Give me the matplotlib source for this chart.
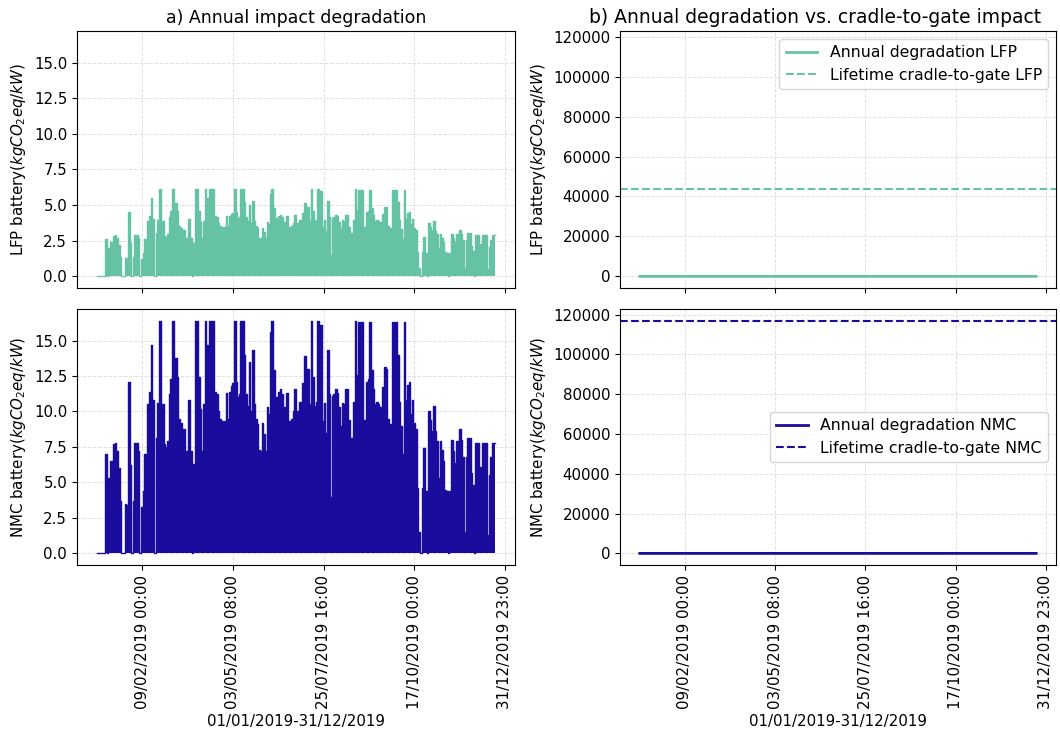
import matplotlib
matplotlib.use('Agg')
import matplotlib.pyplot as plt
import numpy as np

# NMC degradation impact, one value per 36 h block of 2019 (kgCO2eq/kW), read off panel a)
nmc_values = [
    0, 0, 0, 0, 0, 7.0, 0, 5.3, 6.5, 6.5, 7.7, 7.8, 7.2, 6.0, 3.7, 0, 0, 3.5, 3.4, 12.1,
    6.2, 0, 3.7, 7.8, 7.8, 7.2, 0, 3.3, 4.4, 7.0, 6.3, 10.5, 11.4, 14.7, 10.8, 0, 8.1, 10.6, 16.4, 9.8,
    10.5, 7.7, 7.5, 7.9, 11.2, 12.3, 16.4, 11.4, 13.8, 12.4, 9.5, 9.2, 8.6, 8.8, 7.2, 7.2, 10.8, 7.2, 0, 6.3,
    16.4, 16.4, 12.4, 10.2, 7.2, 10.5, 16.4, 14.7, 11.4, 16.4, 16.4, 16.4, 11.4, 11.2, 10.0, 9.5, 9.3, 9.0, 9.3, 11.3,
    9.5, 11.4, 11.8, 12.0, 16.4, 12.1, 11.0, 11.2, 16.4, 16.4, 14.0, 11.2, 10.4, 13.5, 10.0, 14.3, 10.5, 9.5, 9.1, 7.3,
    7.2, 9.2, 8.4, 7.2, 10.3, 9.8, 15.6, 16.4, 12.9, 9.5, 11.0, 11.4, 11.6, 11.2, 10.3, 10.0, 11.3, 9.2, 9.3, 9.5,
    10.0, 11.6, 10.0, 7.9, 10.7, 10.6, 12.0, 13.9, 7.9, 13.0, 10.5, 16.4, 12.4, 10.4, 10.7, 16.4, 11.7, 16.1, 9.3, 10.6,
    8.5, 14.3, 11.2, 4.0, 11.1, 11.2, 11.6, 11.3, 10.3, 9.0, 10.6, 10.5, 11.6, 11.6, 9.4, 7.7, 8.1, 10.7, 16.4, 12.6,
    16.3, 9.1, 16.3, 7.7, 9.4, 12.1, 12.3, 16.3, 12.9, 11.6, 10.5, 10.7, 10.5, 10.3, 10.0, 11.7, 13.1, 13.0, 9.5, 9.1,
    6.7, 16.3, 14.2, 16.3, 14.0, 10.7, 9.0, 7.0, 16.3, 10.8, 11.9, 12.1, 9.8, 10.8, 9.2, 8.8, 4.6, 1.5, 0, 4.6,
    7.4, 4.4, 0, 10.0, 9.4, 8.6, 10.4, 8.6, 7.9, 5.3, 7.9, 7.3, 6.5, 4.5, 4.4, 0, 4.4, 8.0, 7.2, 6.4,
    7.9, 5.8, 8.8, 8.0, 6.8, 1.5, 6.8, 8.1, 8.1, 5.7, 4.8, 0, 7.8, 7.8, 1.0, 6.1, 7.8, 7.8, 7.8, 1.3,
    5.5, 6.8, 7.8, 7.8,
]
block_hours = 36
# LFP peaks sit at ~6.1 where NMC sits at 16.4
lfp_scale = 0.372

lifetime_lfp = 43500
lifetime_nmc = 117000

tick_pos = [1000, 3000, 5000, 7000, 9000]
tick_labels = ['09/02/2019 00:00', '03/05/2019 08:00', '25/07/2019 16:00',
               '17/10/2019 00:00', '31/12/2019 23:00']

lfp_color = '#66c2a5'
nmc_color = '#1a0c9c'

nmc = np.array(nmc_values)
lfp = nmc * lfp_scale
hours = np.arange(len(nmc) + 1) * block_hours
nmc_s = np.append(nmc, nmc[-1])
lfp_s = np.append(lfp, lfp[-1])

plt.rcParams['font.size'] = 10.8
plt.rcParams['axes.axisbelow'] = True

fig = plt.figure(figsize=(10.6, 7.34), dpi=100)
ax_lt = fig.add_axes([0.0726, 0.6076, 0.4132, 0.3502])
ax_lb = fig.add_axes([0.0726, 0.2302, 0.4132, 0.3488], sharex=ax_lt, sharey=ax_lt)
ax_rt = fig.add_axes([0.5849, 0.6076, 0.4113, 0.3502], sharex=ax_lt)
ax_rb = fig.add_axes([0.5849, 0.2302, 0.4113, 0.3488], sharex=ax_lt, sharey=ax_rt)

ylab_lfp = 'LFP battery($kgCO_2eq/kW$)'
ylab_nmc = 'NMC battery($kgCO_2eq/kW$)'

# a) hourly impact
for ax, vals, col in [(ax_lt, lfp_s, lfp_color), (ax_lb, nmc_s, nmc_color)]:
    ax.fill_between(hours, 0, vals, step='post', color=col, lw=0)
    ax.step(hours, vals, where='post', color=col, lw=1)

ax_lt.set_title('a) Annual impact degradation', fontsize=12.5)
ax_lt.set_ylabel(ylab_lfp)
ax_lb.set_ylabel(ylab_nmc)
ax_lt.set_yticks([0, 2.5, 5, 7.5, 10, 12.5, 15])

# b) compared to cradle-to-gate
ax_rt.plot(hours, lfp_s, color=lfp_color, lw=2, label='Annual degradation LFP')
ax_rt.axhline(lifetime_lfp, color=lfp_color, ls='--', lw=1.5, label='Lifetime cradle-to-gate LFP')
ax_rb.plot(hours, nmc_s, color=nmc_color, lw=2, label='Annual degradation NMC')
ax_rb.axhline(lifetime_nmc, color=nmc_color, ls='--', lw=1.5, label='Lifetime cradle-to-gate NMC')
ax_rt.set_title('b) Annual degradation vs. cradle-to-gate impact', fontsize=13.5, x=0.447)
ax_rt.set_ylabel(ylab_lfp)
ax_rb.set_ylabel(ylab_nmc)
ax_rt.legend(loc='upper right', fontsize=11.3)
ax_rb.legend(loc='center right', fontsize=11.3)

for ax in [ax_lt, ax_lb, ax_rt, ax_rb]:
    ax.grid(True, linestyle='--', color='#e0e0e0', lw=0.7)
    ax.set_xticks(tick_pos)

for ax in [ax_lt, ax_rt]:
    ax.tick_params(labelbottom=False)

for ax in [ax_lb, ax_rb]:
    ax.set_xticklabels(tick_labels, rotation=90)
    ax.set_xlabel('01/01/2019-31/12/2019')

fig.savefig('out.png', dpi=100)
